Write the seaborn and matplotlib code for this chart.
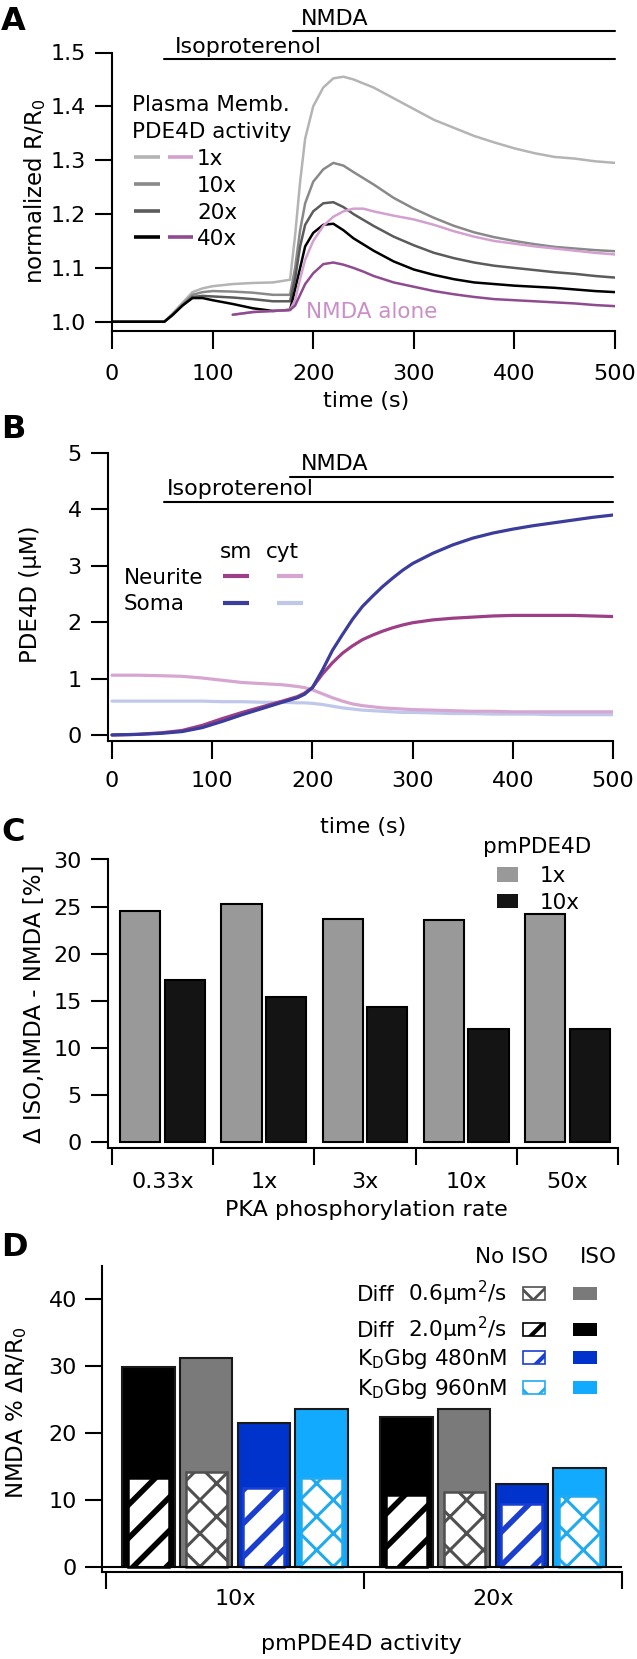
import numpy as np
import pandas as pd
import matplotlib
matplotlib.use("Agg")
import matplotlib.pyplot as plt
from matplotlib.lines import Line2D
from matplotlib.patches import Rectangle
import seaborn as sns

# ---------------- panel A : normalized R/R0 traces
t_a = [0, 52, 60, 70, 80, 90, 100, 120, 140, 160, 177, 182, 187, 192, 200, 210,
       220, 230, 240, 260, 280, 300, 320, 340, 360, 380, 400, 420, 440, 460, 480, 500]
pm_1x = [1.0, 1.0, 1.015, 1.035, 1.055, 1.062, 1.066, 1.07, 1.072, 1.073, 1.078, 1.16,
         1.26, 1.34, 1.40, 1.435, 1.452, 1.455, 1.45, 1.435, 1.415, 1.395, 1.375, 1.36,
         1.345, 1.333, 1.322, 1.313, 1.306, 1.303, 1.298, 1.295]
pm_10x = [1.0, 1.0, 1.013, 1.032, 1.05, 1.055, 1.057, 1.056, 1.054, 1.05, 1.05, 1.10,
          1.17, 1.22, 1.26, 1.283, 1.295, 1.29, 1.278, 1.255, 1.23, 1.21, 1.193, 1.178,
          1.166, 1.157, 1.15, 1.144, 1.139, 1.136, 1.133, 1.131]
pm_20x = [1.0, 1.0, 1.013, 1.03, 1.046, 1.048, 1.047, 1.045, 1.042, 1.038, 1.038, 1.08,
          1.14, 1.18, 1.205, 1.22, 1.222, 1.213, 1.2, 1.178, 1.158, 1.142, 1.128, 1.118,
          1.11, 1.104, 1.1, 1.096, 1.092, 1.089, 1.085, 1.082]
pm_40x = [1.0, 1.0, 1.012, 1.03, 1.044, 1.044, 1.04, 1.033, 1.025, 1.02, 1.022, 1.06,
          1.10, 1.14, 1.165, 1.18, 1.182, 1.17, 1.155, 1.132, 1.112, 1.097, 1.087, 1.079,
          1.073, 1.07, 1.067, 1.065, 1.063, 1.06, 1.057, 1.055]
t_nmda = [120, 140, 160, 177, 182, 187, 192, 200, 210, 220, 230, 240, 250, 260, 280,
          300, 320, 340, 360, 380, 400, 420, 440, 460, 480, 500]
nmda_1x = [1.013, 1.018, 1.02, 1.022, 1.04, 1.08, 1.115, 1.15, 1.178, 1.195, 1.205, 1.21,
           1.21, 1.205, 1.197, 1.19, 1.18, 1.168, 1.158, 1.15, 1.145, 1.14, 1.136, 1.132,
           1.128, 1.125]
nmda_40x = [1.013, 1.018, 1.02, 1.022, 1.03, 1.05, 1.07, 1.09, 1.107, 1.11, 1.106, 1.1,
            1.093, 1.085, 1.073, 1.065, 1.057, 1.051, 1.046, 1.042, 1.04, 1.038, 1.036,
            1.034, 1.031, 1.029]
pm_labels = ["1x", "10x", "20x", "40x"]
iso_on, nmda_on, t_end = 52, 180, 500

# ---------------- panel B : PDE4D concentration
t_b = [0, 25, 50, 70, 90, 110, 130, 150, 170, 185, 192, 200, 210, 220, 230, 240, 250,
       260, 270, 280, 290, 300, 320, 340, 360, 380, 400, 420, 440, 460, 480, 500]
soma_sm = [0.0, 0.01, 0.03, 0.06, 0.13, 0.24, 0.36, 0.47, 0.58, 0.66, 0.72, 0.84, 1.15,
           1.5, 1.78, 2.05, 2.28, 2.46, 2.63, 2.78, 2.92, 3.04, 3.22, 3.37, 3.49, 3.58,
           3.65, 3.71, 3.76, 3.81, 3.86, 3.9]
neurite_sm = [0.0, 0.01, 0.04, 0.08, 0.17, 0.29, 0.4, 0.5, 0.6, 0.68, 0.74, 0.84, 1.08,
              1.28, 1.45, 1.58, 1.69, 1.77, 1.84, 1.9, 1.95, 1.99, 2.04, 2.07, 2.09, 2.11,
              2.12, 2.12, 2.12, 2.12, 2.11, 2.1]
neurite_cyt = [1.06, 1.06, 1.05, 1.04, 1.01, 0.97, 0.93, 0.91, 0.89, 0.86, 0.84, 0.8,
               0.73, 0.66, 0.6, 0.55, 0.52, 0.5, 0.48, 0.47, 0.46, 0.45, 0.44, 0.43, 0.42,
               0.42, 0.41, 0.41, 0.41, 0.41, 0.41, 0.41]
soma_cyt = [0.6, 0.6, 0.6, 0.6, 0.6, 0.59, 0.59, 0.58, 0.58, 0.57, 0.57, 0.56, 0.54, 0.51,
            0.48, 0.46, 0.44, 0.43, 0.42, 0.41, 0.4, 0.4, 0.39, 0.38, 0.38, 0.37, 0.37,
            0.37, 0.36, 0.36, 0.36, 0.36]

# ---------------- panel C
pka_rates = ["0.33x", "1x", "3x", "10x", "50x"]
c_pm1x = [24.5, 25.3, 23.7, 23.6, 24.2]
c_pm10x = [17.2, 15.4, 14.3, 12.0, 12.0]

# ---------------- panel D
d_groups = ["10x", "20x"]
d_conds = ["Diff 2.0", "Diff 0.6", "KD 480", "KD 960"]
iso_diff20 = [29.9, 22.5]
iso_diff06 = [31.3, 23.7]
iso_kd480 = [21.5, 12.4]
iso_kd960 = [23.6, 14.8]
noiso_diff20 = [13.4, 10.8]
noiso_diff06 = [14.2, 11.2]
noiso_kd480 = [11.8, 9.4]
noiso_kd960 = [13.4, 10.7]

# colours
c_pm = ["#b4b4b4", "#898989", "#5b5b5b", "#000000"]
c_pink, c_purple = "#d3a0d0", "#8f4b8f"
c_nsm, c_ssm, c_ncyt, c_scyt = "#9c3f86", "#3b3c9b", "#d6a6d0", "#bfc8ea"
c_bar_gray, c_bar_black = "#999999", "#141414"
d_iso_col = ["#000000", "#7a7a7a", "#0033cc", "#12aaff"]
d_hatch_col = ["#000000", "#505050", "#1a3fcf", "#22aaee"]
d_hatch = ["/", "x", "/", "x"]

sns.set_theme(style="white")
plt.rcParams["font.family"] = ["DejaVu Sans"]
plt.rcParams.update({
    "mathtext.fontset": "dejavusans",
    "axes.edgecolor": "black",
    "axes.labelcolor": "black",
    "text.color": "black",
    "xtick.color": "black",
    "ytick.color": "black",
    "xtick.bottom": True,
    "ytick.left": True,
    "hatch.linewidth": 3.5,
})

W, H = 637, 1659
fig = plt.figure(figsize=(W / 100, H / 100), dpi=100)
FS = 16
LFS = 15.5


def add_ax(left, top, right, bottom):
    return fig.add_axes([left / W, 1 - bottom / H, (right - left) / W, (bottom - top) / H])


def ftext(x, y, s, size=LFS, ha="left", **kw):
    # y = visual middle of the capitals, pixels from the top
    base = y + 0.365 * size * 100 / 72
    fig.text(x / W, 1 - base / H, s, ha=ha, va="baseline", fontsize=size, **kw)


def fline(x0, x1, y, color, lw=2.6):
    fig.add_artist(Line2D([x0 / W, x1 / W], [1 - y / H, 1 - y / H], color=color,
                          lw=lw, transform=fig.transFigure, solid_capstyle="butt"))


def fbox(x0, x1, y0, y1, face, edge="none", hatch=None, hlw=None):
    r = Rectangle((x0 / W, 1 - y1 / H), (x1 - x0) / W, (y1 - y0) / H, facecolor=face,
                  edgecolor=edge, hatch=hatch, lw=1.2, transform=fig.transFigure)
    if hlw is not None and hasattr(r, "set_hatch_linewidth"):
        r.set_hatch_linewidth(hlw)
    fig.add_artist(r)


def style(ax, xlen=13, ylen=12, xpad=10, ypad=7):
    sns.despine(ax=ax)
    for s in ("left", "bottom"):
        ax.spines[s].set_linewidth(1.5)
        ax.spines[s].set_color("black")
    ax.tick_params(axis="both", which="both", direction="out", width=1.5, labelsize=FS)
    ax.tick_params(axis="x", which="major", length=xlen, pad=xpad)
    ax.tick_params(axis="y", which="major", length=ylen, pad=ypad)


# ================= A
axA = add_ax(112, 52.5, 615, 330.9)
for vals, col in zip([pm_1x, pm_10x, pm_20x, pm_40x], c_pm):
    sns.lineplot(x=t_a, y=vals, color=col, lw=1.8, ax=axA, legend=False)
sns.lineplot(x=t_nmda, y=nmda_1x, color=c_pink, lw=1.8, ax=axA, legend=False)
sns.lineplot(x=t_nmda, y=nmda_40x, color=c_purple, lw=1.8, ax=axA, legend=False)
axA.set_xlim(0, 500)
axA.set_ylim(0.983, 1.5)
axA.set_xticks([0, 100, 200, 300, 400, 500])
axA.set_yticks([1.0, 1.1, 1.2, 1.3, 1.4, 1.5])
axA.set_yticklabels(["1.0", "1.1", "1.2", "1.3", "1.4", "1.5"])
style(axA, xpad=11)
axA.set_xlabel("time (s)", fontsize=FS)
axA.set_ylabel("normalized R/R$_\\mathregular{0}$", fontsize=FS + 0.5)
axA.xaxis.set_label_coords(0.505, -0.215)
axA.yaxis.set_label_coords(-0.128, 0.5)
axA.plot([iso_on, t_end], [1.488, 1.488], color="black", lw=1.5, clip_on=False)
axA.plot([nmda_on, t_end], [1.540, 1.540], color="black", lw=1.5, clip_on=False)
ftext(301, 16.7, "NMDA", size=FS)
ftext(175, 45, "Isoproterenol", size=FS)
ftext(306, 310, "NMDA alone", size=LFS, color="#c98fc6")
ftext(132, 103, "Plasma Memb.")
ftext(132, 130, "PDE4D activity")
for y, col, lab in zip([157, 184, 211, 237], c_pm, pm_labels):
    fline(134, 160, y, col)
    ftext(197, y, lab)
fline(168, 193, 157, c_pink)
fline(168, 193, 237, c_purple)

# ================= B
axB = add_ax(108, 453, 613, 740.6)
for vals, col in zip([soma_cyt, neurite_cyt, neurite_sm, soma_sm],
                     [c_scyt, c_ncyt, c_nsm, c_ssm]):
    sns.lineplot(x=t_b, y=vals, color=col, lw=2.3, ax=axB, legend=False)
axB.set_xlim(-4, 500)
axB.set_ylim(-0.1, 5)
axB.set_xticks([0, 100, 200, 300, 400, 500])
axB.set_yticks([0, 1, 2, 3, 4, 5])
style(axB, xpad=9)
axB.set_xlabel("time (s)", fontsize=FS)
axB.set_ylabel("PDE4D (\u03bcM)", fontsize=FS + 0.5)
axB.xaxis.set_label_coords(0.505, -0.265)
axB.yaxis.set_label_coords(-0.131, 0.51)
axB.plot([iso_on, t_end], [4.137, 4.137], color="black", lw=1.5, clip_on=False)
axB.plot([nmda_on - 2, t_end], [4.58, 4.58], color="black", lw=1.5, clip_on=False)
ftext(301, 461.7, "NMDA", size=FS)
ftext(167, 487.3, "Isoproterenol", size=FS)
ftext(236, 550.6, "sm", ha="center")
ftext(282, 550.6, "cyt", ha="center")
ftext(124, 576, "Neurite")
ftext(124, 602.5, "Soma")
fline(223, 249, 576, c_nsm, lw=3)
fline(277, 303, 576, c_ncyt, lw=3)
fline(223, 249, 602.5, c_ssm, lw=3)
fline(277, 303, 602.5, c_scyt, lw=3)

# ================= C
axC = add_ax(108, 859.5, 618, 1148)
dfC = pd.DataFrame({"rate": pka_rates * 2,
                    "pm": ["1x"] * len(pka_rates) + ["10x"] * len(pka_rates),
                    "val": c_pm1x + c_pm10x})
sns.barplot(data=dfC, x="rate", y="val", hue="pm", order=pka_rates, hue_order=["1x", "10x"],
            palette=[c_bar_gray, c_bar_black], saturation=1, width=0.88, gap=0.1,
            edgecolor="black", linewidth=1.5, errorbar=None, legend=False, ax=axC)
axC.set_xlim(-0.5395, 4.5)
axC.set_ylim(-0.64, 30)
axC.set_yticks([0, 5, 10, 15, 20, 25, 30])
axC.set_xticks(range(len(pka_rates)))
axC.set_xticklabels(pka_rates)
axC.set_xticks(np.arange(-0.5, len(pka_rates)), minor=True)
style(axC, xlen=0, ypad=7)
axC.tick_params(axis="x", which="minor", length=12, width=1.5)
axC.tick_params(axis="x", which="major", pad=17)
axC.set_xlabel("PKA phosphorylation rate", fontsize=FS)
axC.set_ylabel("\u0394 ISO,NMDA - NMDA [%]", fontsize=FS + 0.5)
axC.xaxis.set_label_coords(0.506, -0.18)
axC.yaxis.set_label_coords(-0.122, 0.5)
ftext(537, 845, "pmPDE4D", ha="center")
fbox(497, 518, 867, 882, c_bar_gray)
fbox(497, 518, 894, 908, c_bar_black)
ftext(540, 874, "1x")
ftext(540, 901, "10x")

# ================= D
axD = add_ax(102, 1266, 622, 1572.4)
n_g = len(d_groups)
dfD_iso = pd.DataFrame({"grp": d_groups * 4, "cond": np.repeat(d_conds, n_g),
                        "val": iso_diff20 + iso_diff06 + iso_kd480 + iso_kd960})
dfD_no = pd.DataFrame({"grp": d_groups * 4, "cond": np.repeat(d_conds, n_g),
                       "val": noiso_diff20 + noiso_diff06 + noiso_kd480 + noiso_kd960})
sns.barplot(data=dfD_iso, x="grp", y="val", hue="cond", order=d_groups, hue_order=d_conds,
            palette=d_iso_col, saturation=1, width=0.892, gap=0.087, edgecolor="#1a1a1a",
            linewidth=1.5, errorbar=None, legend=False, ax=axD)
n_before = len(axD.containers)
sns.barplot(data=dfD_no, x="grp", y="val", hue="cond", order=d_groups, hue_order=d_conds,
            palette=["white"] * 4, saturation=1, width=0.892, gap=0.287, linewidth=1.8,
            errorbar=None, legend=False, ax=axD)
for cont, hcol, hat in zip(axD.containers[n_before:], d_hatch_col, d_hatch):
    for bar in cont:
        bar.set_facecolor("white")
        bar.set_edgecolor(hcol)
        bar.set_hatch(hat)
        if hasattr(bar, "set_hatch_linewidth"):
            bar.set_hatch_linewidth(4.0 if hat == "/" else 2.2)
axD.axhline(0, color="black", lw=1.5, zorder=5)
axD.set_xlim(-0.5155, 1.5)
axD.set_ylim(-0.75, 45)
axD.set_yticks([0, 10, 20, 30, 40])
axD.set_xticks(range(n_g))
axD.set_xticklabels(d_groups)
axD.set_xticks(np.arange(-0.5, n_g), minor=True)
style(axD, xlen=0, ypad=6)
axD.tick_params(axis="x", which="minor", length=12, width=1.5)
axD.tick_params(axis="x", which="major", pad=12)
axD.set_xlabel("pmPDE4D activity", fontsize=FS)
axD.set_ylabel("NMDA % \u0394R/R$_\\mathregular{0}$", fontsize=FS + 0.5)
axD.xaxis.set_label_coords(0.499, -0.2)
axD.yaxis.set_label_coords(-0.14, 0.52)

ftext(511.7, 1255, "No ISO", ha="center")
ftext(598, 1255, "ISO", ha="center")
leg_rows = [1293, 1329, 1357, 1387]
leg_order = [1, 0, 2, 3]
ftext(356.7, leg_rows[0], "Diff")
ftext(506.7, leg_rows[0], "0.6\u03bcm$^\\mathregular{2}$/s", ha="right")
ftext(356.7, leg_rows[1], "Diff")
ftext(506.7, leg_rows[1], "2.0\u03bcm$^\\mathregular{2}$/s", ha="right")
ftext(356.7, leg_rows[2], "K$_\\mathregular{D}$Gbg 480nM")
ftext(356.7, leg_rows[3], "K$_\\mathregular{D}$Gbg 960nM")
for y, k in zip(leg_rows, leg_order):
    fbox(523, 545, y - 6.5, y + 6.5, "white", edge=d_hatch_col[k], hatch=d_hatch[k],
         hlw=3.0 if d_hatch[k] == "/" else 2.0)
    fbox(573, 596.7, y - 6.5, y + 6.5, d_iso_col[k])

# panel letters
for lab, y in zip(["A", "B", "C", "D"], [18, 426, 829, 1244]):
    ftext(1, y, lab, size=23, fontweight="bold")

fig.savefig("out.png", dpi=100)
